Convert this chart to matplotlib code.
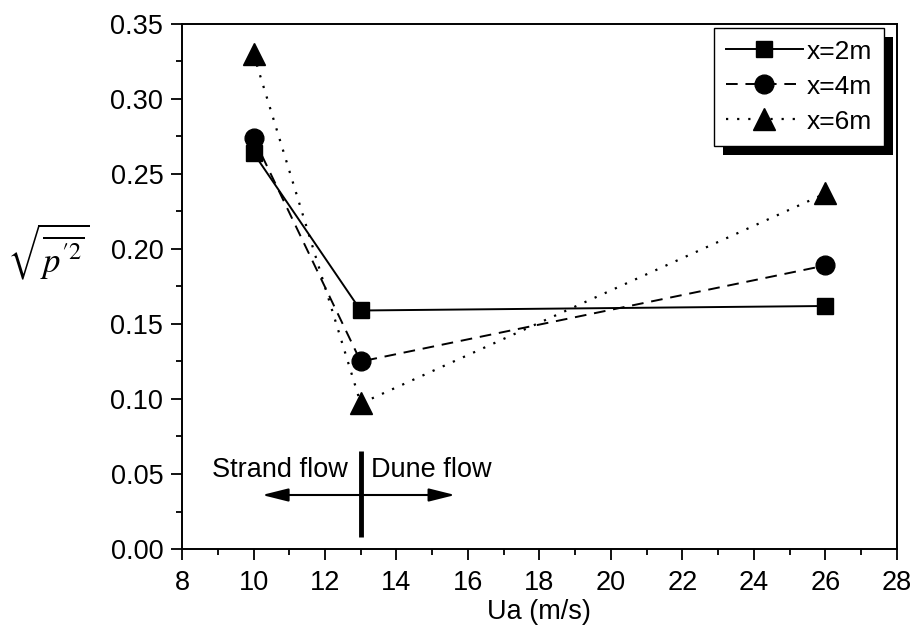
import matplotlib.pyplot as plt
from matplotlib.patches import Rectangle
from matplotlib.ticker import MultipleLocator

plt.rcParams['font.family'] = ['Liberation Sans', 'DejaVu Sans']
plt.rcParams['mathtext.fontset'] = 'stix'

# wind speed (m/s) and pressure fluctuation rms at three stations
ua = [10, 13, 26]
p_x2 = [0.264, 0.159, 0.162]
p_x4 = [0.274, 0.125, 0.189]
p_x6 = [0.330, 0.097, 0.237]
series_labels = ['x=2m', 'x=4m', 'x=6m']

# flow regime boundary
ua_transition = 13

fig = plt.figure(figsize=(9.17, 6.33), dpi=100)
ax = fig.add_axes([0.1985, 0.1327, 0.7795, 0.8294])

ax.plot(ua, p_x2, color='k', lw=1.4, ls='-', marker='s', ms=12, label=series_labels[0])
ax.plot(ua, p_x4, color='k', lw=1.4, ls=(0, (6, 4)), marker='o', ms=13.5, label=series_labels[1])
ax.plot(ua, p_x6, color='k', lw=1.6, ls=(0, (1, 4)), marker='^', ms=15.5, label=series_labels[2])

ax.set_xlim(8, 28)
ax.set_ylim(0, 0.35)
ax.xaxis.set_major_locator(MultipleLocator(2))
ax.xaxis.set_minor_locator(MultipleLocator(1))
ax.yaxis.set_major_locator(MultipleLocator(0.05))
ax.yaxis.set_minor_locator(MultipleLocator(0.025))
ax.yaxis.set_major_formatter(plt.FormatStrFormatter('%.2f'))
ax.tick_params(which='both', direction='out', labelsize=19.5, color='k', width=1.3)
ax.tick_params(which='major', length=8)
ax.tick_params(axis='y', which='major', pad=5.5)
ax.tick_params(axis='x', which='major', pad=7)
ax.tick_params(which='minor', length=4)
for s in ax.spines.values():
    s.set_linewidth(1.4)

ax.set_xlabel('Ua (m/s)', fontsize=19.5, labelpad=2)
ax.text(-0.188, 0.566, r"$\sqrt{\overline{p^{\prime 2}}}$", transform=ax.transAxes,
        fontsize=25, ha='center', va='center')

# regime divider and arrows
ax.plot([ua_transition, ua_transition], [0.008, 0.065], color='k', lw=3.5, solid_capstyle='butt')
head = '-|>,head_length=0.8,head_width=0.2'
ax.annotate('', xy=(10.24, 0.036), xytext=(ua_transition, 0.036),
            arrowprops=dict(arrowstyle=head, color='k', lw=1.5, mutation_scale=20,
                            shrinkA=0, shrinkB=0))
ax.annotate('', xy=(15.64, 0.036), xytext=(ua_transition, 0.036),
            arrowprops=dict(arrowstyle=head, color='k', lw=1.5, mutation_scale=20,
                            shrinkA=0, shrinkB=0))
ax.text(12.65, 0.0527, 'Strand flow', ha='right', va='center', fontsize=19.5)
ax.text(13.3, 0.0527, 'Dune flow', ha='left', va='center', fontsize=19.5)

leg = ax.legend(loc='upper right', bbox_to_anchor=(0.982, 0.993), fontsize=19,
                fancybox=False, edgecolor='k', framealpha=1, handlelength=2.9,
                handletextpad=0.15, borderpad=0.45, labelspacing=0.42,
                borderaxespad=0)
leg.get_frame().set_linewidth(1.0)

# solid drop shadow behind the legend box
fig.canvas.draw()
bb = leg.get_window_extent().transformed(fig.transFigure.inverted())
dx, dy = 9 / 917, 9 / 633
shadow = Rectangle((bb.x0 + dx, bb.y0 - dy), bb.width, bb.height,
                   transform=fig.transFigure, facecolor='k', edgecolor='none')
ax.add_artist(shadow)
shadow.set_zorder(4)
leg.set_zorder(5)

fig.savefig('out.png', dpi=100)
